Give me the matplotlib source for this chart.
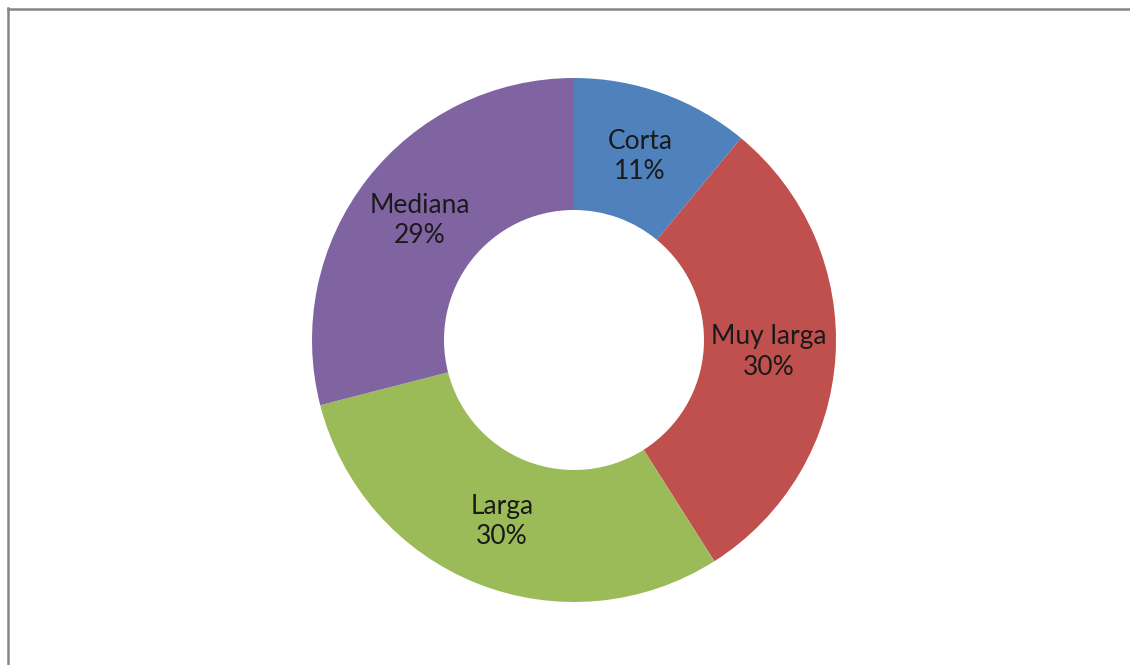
import matplotlib
matplotlib.use("Agg")
import matplotlib.pyplot as plt
from matplotlib.lines import Line2D

categorias = ["Corta", "Muy larga", "Larga", "Mediana"]
porcentajes = [11, 30, 30, 29]
colores = ["#4F81BD", "#C0504D", "#9BBB59", "#8064A2"]

W, H = 1130, 665
cx, cy, r_out, r_in = 574, 340, 262, 130

fig = plt.figure(figsize=(W / 100, H / 100), dpi=100)
fig.patch.set_facecolor("white")

# axes sized in pixels so the ring lands where it should
ax = fig.add_axes([(cx - r_out) / W, (H - cy - r_out) / H, 2 * r_out / W, 2 * r_out / H])

etiquetas = [f"{c}\n{p}%" for c, p in zip(categorias, porcentajes)]
wedges, textos = ax.pie(porcentajes, colors=colores, startangle=90, counterclock=False,
                        radius=1, labels=etiquetas, labeldistance=0.745,
                        wedgeprops=dict(width=(r_out - r_in) / r_out, linewidth=0),
                        textprops=dict(fontsize=19, family="Lato", color="#1a1a1a",
                                       linespacing=1.28))
for t in textos:
    t.set_horizontalalignment("center")
    t.set_verticalalignment("center")

ax.set_xlim(-1, 1)
ax.set_ylim(-1, 1)
ax.axis("off")

# chart frame (only left and top edges fall inside the image)
fig.add_artist(Line2D([7.5 / W, 7.5 / W], [0, 1 - 8 / H], transform=fig.transFigure,
                      color="#878787", linewidth=1.8))
fig.add_artist(Line2D([7.5 / W, 1], [1 - 8.5 / H, 1 - 8.5 / H], transform=fig.transFigure,
                      color="#878787", linewidth=1.8))

fig.savefig("out.png", dpi=100)
